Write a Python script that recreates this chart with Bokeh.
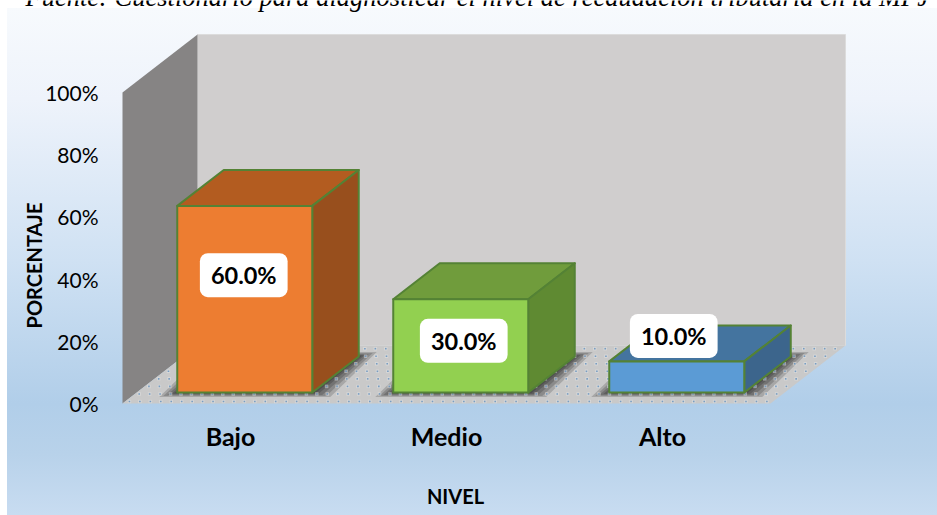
from bokeh.plotting import figure
from bokeh.models import Range1d, FixedTicker, Label
from bokeh.embed import file_html
from bokeh.resources import INLINE

# data
categories = ["Bajo", "Medio", "Alto"]
percentages = [60.0, 30.0, 10.0]
y_ticks = [0, 20, 40, 60, 80, 100]
front_colors = ["#ed7d31", "#92d050", "#5b9bd5"]
top_colors = ["#b35c20", "#709c3c", "#44749f"]
side_colors = ["#984f1d", "#5f8a32", "#3c658c"]
title_text = "Fuente: Cuestionario para diagnosticar el nivel de recaudación tributaria en la MPJ"

# layout (pixels per data unit, oblique depth vector)
W, H = 937, 515
LEFT, FLOOR_Y = 122, 403
PX_X, PX_Y = 216.0, 3.11
DEPTH_X, DEPTH_Y = 75 / PX_X, 58 / PX_Y
D1, D2 = 0.19, 0.81
HALF = 0.3125
FONT = "Lato"

def proj(x, v, d):
    return x + d * DEPTH_X, v + d * DEPTH_Y

def poly(points):
    pts = [proj(*q) for q in points]
    return [a for a, _ in pts], [b for _, b in pts]

p = figure(width=W, height=H, output_backend="svg", toolbar_location=None,
           x_range=Range1d(-LEFT / PX_X, (W - LEFT) / PX_X),
           y_range=Range1d(-(H - FLOOR_Y) / PX_Y, FLOOR_Y / PX_Y),
           min_border_left=0, min_border_right=0, min_border_top=0,
           min_border_bottom=0, outline_line_color=None,
           background_fill_color=None, border_fill_color=None)
p.styles = {
    "position": "absolute", "left": "0", "top": "0",
    "background": "linear-gradient(180deg,#f7fafd 0%,#eef3fb 18%,#cfe1f3 50%,#b1cee9 78%,#b8d2ea 88%,#c8dcf1 100%) 7px 8px / 930px 507px no-repeat",
}
p.grid.visible = False

ax = p.yaxis[0]
ax.fixed_location = 0
ax.ticker = FixedTicker(ticks=y_ticks)
ax.major_label_overrides = {t: f"{t}%" for t in y_ticks}
ax.major_label_standoff = 18
ax.major_label_text_font = FONT
ax.major_label_text_font_size = "21px"
ax.major_label_text_color = "#000000"
ax.axis_line_color = None
ax.major_tick_line_color = None
ax.minor_tick_line_color = None

ax = p.xaxis[0]
ax.fixed_location = 0
centers = [i + 0.5 for i in range(len(categories))]
ax.ticker = FixedTicker(ticks=centers)
ax.major_label_overrides = dict(zip(centers, categories))
ax.major_label_standoff = 11
ax.major_label_text_font = FONT
ax.major_label_text_font_style = "bold"
ax.major_label_text_font_size = "25px"
ax.major_label_text_color = "#000000"
ax.axis_line_color = None
ax.major_tick_line_color = None
ax.minor_tick_line_color = None

n = len(categories)
# walls and floor
x, y = poly([(0, 0, 1), (n, 0, 1), (n, 100, 1), (0, 100, 1)])
p.patch(x, y, fill_color="#d0cece", line_color="#dcdcdc", line_width=1)
x, y = poly([(0, 0, 0), (0, 0, 1), (0, 100, 1), (0, 100, 0)])
p.patch(x, y, fill_color="#868484", line_color=None)
x, y = poly([(0, 0, 0), (n, 0, 0), (n, 0, 1), (0, 0, 1)])
p.patch(x, y, fill_color="#c9c9c9", line_color=None)

# contact shadows: layered, slightly grown footprints
for i, v in enumerate(percentages):
    l, r = centers[i] - HALF, centers[i] + HALF
    for k in (18, 14, 10, 6, 3):
        ex, ey = k / PX_X, 0.25 * k / PX_Y
        x, y = poly([(l - ex, -ey, D1), (r + ex, -ey, D1), (r + ex, ey, D2), (l - ex, ey, D2)])
        p.patch(x, y, fill_color="#000000", fill_alpha=0.17, line_color=None)

# dotted floor texture, a lattice in floor coordinates
dots_x, dots_y = [], []
for row in range(8):
    d = 0.035 + row * 0.13
    for col in range(62):
        a, b = proj(0.02 + col * 10.45 / PX_X, 0, d)
        dots_x.append(a)
        dots_y.append(b)
p.scatter(dots_x, dots_y, marker="square", size=3.5, fill_color="#e4e4e4", fill_alpha=0.5, line_color=None)
p.scatter(dots_x, dots_y, marker="square", size=1.6, fill_color="#5f8fbd", fill_alpha=0.8, line_color=None)

# bars
for i, v in enumerate(percentages):
    c = centers[i]
    l, r = c - HALF, c + HALF
    x, y = poly([(l, v, D1), (r, v, D1), (r, v, D2), (l, v, D2)])
    p.patch(x, y, fill_color=top_colors[i], line_color="#548235", line_width=2, line_join="round")
    x, y = poly([(r, 0, D1), (r, 0, D2), (r, v, D2), (r, v, D1)])
    p.patch(x, y, fill_color=side_colors[i], line_color="#548235", line_width=2, line_join="round")
    x, y = poly([(l, 0, D1), (r, 0, D1), (r, v, D1), (l, v, D1)])
    p.patch(x, y, fill_color=front_colors[i], line_color="#548235", line_width=2, line_join="round")

# data labels: anchored on each bar's front face, nudged in pixels
label_nudge = [(-1, 24), (3, 5), (-3, 41)]
for i, v in enumerate(percentages):
    lx, ly = proj(centers[i], v / 2, D1)
    dx, dy = label_nudge[i]
    p.add_layout(Label(x=lx, y=ly, x_offset=dx, y_offset=dy, text=f"{v:.1f}%",
                       text_align="center", text_baseline="middle",
                       text_font=FONT, text_font_style="bold", text_font_size="23.5px",
                       text_color="#000000", background_fill_color="#ffffff",
                       border_radius=8, padding=(11, 8)))

# screen units here count from the frame's bottom-left corner
p.add_layout(Label(x=25, y=H + 4, x_units="screen", y_units="screen", text=title_text,
                   text_font="Liberation Serif", text_font_style="italic",
                   text_font_size="26.5px", text_color="#000000", text_baseline="alphabetic"))
p.add_layout(Label(x=455, y=H - 495, x_units="screen", y_units="screen", text="NIVEL",
                   text_align="center", text_baseline="middle", text_font=FONT,
                   text_font_style="bold", text_font_size="20px", text_color="#000000"))
p.add_layout(Label(x=33, y=H - 265, x_units="screen", y_units="screen", text="PORCENTAJE",
                   text_align="center", text_baseline="middle", angle=90, angle_units="deg",
                   text_font=FONT, text_font_style="bold", text_font_size="20px",
                   text_color="#000000"))

open("out.html", "w").write(file_html(p, INLINE))
